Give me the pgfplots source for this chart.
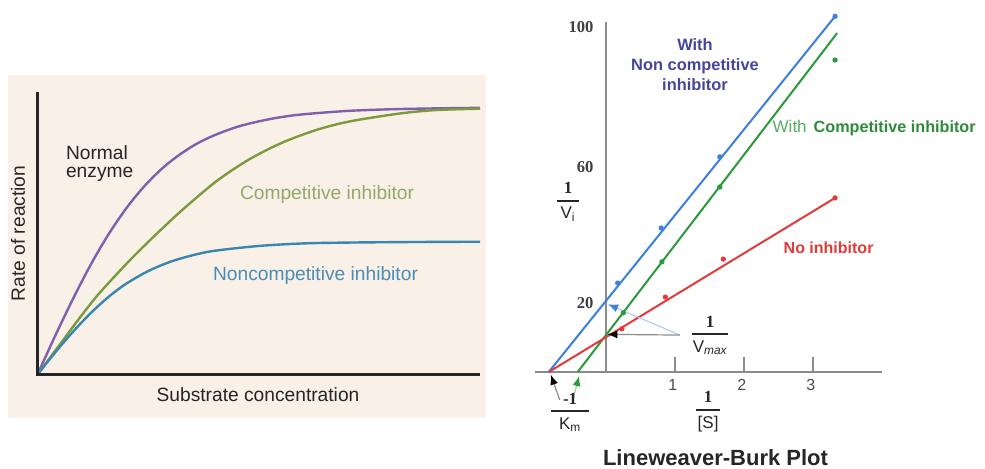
\documentclass[border=0pt]{standalone}
\usepackage{pgfplots}
\pgfplotsset{compat=1.18}
\usetikzlibrary{arrows.meta}
\usepackage{fontspec}
\setmainfont{Liberation Sans}
\newfontfamily\serifb{Liberation Serif}
\definecolor{bgb}{HTML}{F9F0E7}
\definecolor{cpurp}{HTML}{7F5FAE}
\definecolor{colive}{HTML}{7C9A3E}
\definecolor{tolive}{HTML}{93A96A}
\definecolor{cblue}{HTML}{3A86B2}
\definecolor{tblue}{HTML}{4C8DB4}
\definecolor{lbblue}{HTML}{3B7FE0}
\definecolor{lbgreen}{HTML}{2A9A3A}
\definecolor{lbred}{HTML}{E23B3B}
\definecolor{nctext}{HTML}{45459A}
\definecolor{ctext}{HTML}{2E8B3A}
\definecolor{axgray}{HTML}{8C8C8C}
\newcommand{\fr}[3]{$\displaystyle{\hbox{\serifb\bfseries #1}\above 0.9pt\hbox{\makebox[#3]{#2}}}$}
\begin{document}
\begin{tikzpicture}
\path[use as bounding box, fill=white] (0,0) rectangle (492.5pt,234pt);
\fill[bgb] (4pt,25pt) rectangle (243pt,196.5pt);
% ---------------- left panel ----------------
\begin{axis}[at={(18.75pt,46.75pt)}, anchor=south west, scale only axis,
  width=221.25pt, height=141.25pt, xmin=0, xmax=100, ymin=0, ymax=100,
  hide axis, clip=false]
\addplot[cpurp, line width=1.2pt, smooth] coordinates {
 (0,0) (4,13.7) (8,26.7) (12,38.8) (16,49.5) (20,58.7) (24,66.4) (28,72.7)
 (32,77.7) (36,81.7) (40,84.7) (45,87.6) (50,89.6) (55,91.1) (60,92.1)
 (70,93.3) (80,93.9) (90,94.2) (100,94.4)};
\addplot[colive, line width=1.2pt, smooth] coordinates {
 (0,0) (5,10.5) (10,21) (14.1,29) (20.9,40.5) (25.4,47.5) (28.4,52) (32.9,58.5)
 (40.5,68.5) (48,76.3) (55.5,82.2) (63.1,86.6) (70.6,89.6) (81.9,92.4) (90,93.6) (100,94.1)};
\addplot[cblue, line width=1.2pt, smooth] coordinates {
 (0,0) (4,7.8) (8,15.1) (12,21.7) (16,27.4) (20,32.1) (25,36.6) (30,39.9)
 (35,42.2) (40,43.8) (50,45.5) (60,46.4) (70,46.7) (85,46.9) (100,47.0)};
\draw[black!85, line width=1.1pt] (axis cs:0,100) -- (axis cs:0,0) -- (axis cs:100,0);
\end{axis}
\begin{scope}[every node/.style={font=\fontsize{9.6}{11.5}\selectfont}]
\node[anchor=base west, text=black!85] at (29.5pt,154.5pt) {Normal};
\node[anchor=base west, text=black!85] at (29.5pt,145.5pt) {enzyme};
\node[anchor=base, text=tolive] at (163.5pt,134.5pt) {Competitive inhibitor};
\node[anchor=base, text=tblue] at (157.75pt,93.65pt) {Noncompetitive inhibitor};
\node[rotate=90, text=black!85] at (9pt,117.25pt) {Rate of reaction};
\node[text=black!85] at (129pt,36.5pt) {Substrate concentration};
\end{scope}
% ---------------- right panel ----------------
\begin{axis}[at={(261.6pt,13.8pt)}, anchor=south west, scale only axis,
  width=182.85pt, height=218.9pt, xmin=-1.2, xmax=4.1, ymin=-20, ymax=108,
  hide axis, clip=false]
\draw[axgray, line width=0.8pt] (axis cs:-1.03,0) -- (axis cs:4.0,0);
\draw[axgray, line width=0.8pt] (axis cs:0,0) -- (axis cs:0,102.3);
\draw[axgray, line width=0.8pt] (axis cs:1,0) -- (axis cs:1,4.4);
\draw[axgray, line width=0.8pt] (axis cs:2,0) -- (axis cs:2,4.4);
\draw[axgray, line width=0.8pt] (axis cs:3,0) -- (axis cs:3,4.4);
\addplot[lbblue, line width=1pt] coordinates {(-0.83,0) (3.32,104)};
\addplot[lbgreen, line width=1pt] coordinates {(-0.41,0) (3.35,99.1)};
\addplot[lbred, line width=1pt] coordinates {(-0.83,0) (3.32,50.9)};
\addplot[only marks, mark=*, mark size=1.1pt, lbblue] coordinates {(0.17,26.0) (0.80,42.1) (1.65,62.9) (3.32,104)};
\addplot[only marks, mark=*, mark size=1.1pt, lbgreen] coordinates {(0.25,17.3) (0.81,32.2) (1.65,54.1) (3.32,91.2)};
\addplot[only marks, mark=*, mark size=1.1pt, lbred] coordinates {(0.23,12.6) (0.86,21.9) (1.70,33.0) (3.32,50.9)};
% arrows
\draw[lbblue!45, line width=0.5pt, -{Latex[length=5pt,width=4pt,color=lbblue]}] (axis cs:1.07,10.8) -- (axis cs:0.03,19.8);
\draw[axgray, line width=0.6pt, -{Latex[length=5pt,width=4pt,color=black]}] (axis cs:1.07,10.8) -- (axis cs:0.02,11.0);
\draw[axgray, line width=0.6pt, -{Latex[length=5pt,width=4pt,color=black]}] (axis cs:-0.67,-8.2) -- (axis cs:-0.80,-0.8);
\draw[lbgreen!45, line width=0.6pt, -{Latex[length=5pt,width=4pt,color=lbgreen]}] (axis cs:-0.48,-8.2) -- (axis cs:-0.39,-1.2);
% tick labels
\node[anchor=east, font=\serifb\bfseries\fontsize{8.3}{10}\selectfont, text=black!75] at (axis cs:-0.08,100.9) {100};
\node[anchor=east, font=\serifb\bfseries\fontsize{8.3}{10}\selectfont, text=black!75] at (axis cs:-0.08,59.9) {60};
\node[anchor=east, font=\serifb\bfseries\fontsize{8.3}{10}\selectfont, text=black!75] at (axis cs:-0.08,20.2) {20};
\node[font=\fontsize{8}{10}\selectfont, text=black!70] at (axis cs:0.97,-3.8) {1};
\node[font=\fontsize{8}{10}\selectfont, text=black!70] at (axis cs:1.97,-3.8) {2};
\node[font=\fontsize{8}{10}\selectfont, text=black!70] at (axis cs:2.97,-3.8) {3};
% fractions
\node[font=\fontsize{8.5}{10}\selectfont, text=black!85] at (axis cs:-0.55,49.7) {\fr{1}{V\textsubscript{i}}{11pt}};
\node[font=\fontsize{8.5}{10}\selectfont, text=black!85] at (axis cs:1.51,10.8) {\fr{1}{V\textsubscript{\itshape max}}{18pt}};
\node[font=\fontsize{8.5}{10}\selectfont, text=black!85] at (axis cs:-0.52,-11.7) {\fr{-1}{K\textsubscript{m}}{19pt}};
\node[font=\fontsize{8.5}{10}\selectfont, text=black!85] at (axis cs:1.48,-11.7) {\fr{1}{[S]}{12pt}};
% series labels
\node[align=center, font=\bfseries\fontsize{8.2}{10}\selectfont, text=nctext] at (axis cs:1.29,89.8) {With\\Non competitive\\inhibitor};
\node[anchor=west, inner sep=0pt, text=ctext] at (axis cs:2.41,71.3) {{\fontsize{8.5}{10}\selectfont\color{lbgreen!80}With}\hspace{3.5pt}{\bfseries\fontsize{8.1}{10}\selectfont Competitive inhibitor}};
\node[anchor=west, inner sep=0pt, font=\bfseries\fontsize{8}{10}\selectfont, text=lbred] at (axis cs:2.57,36.3) {No inhibitor};
\end{axis}
\node[font=\bfseries\fontsize{11}{13}\selectfont, text=black!85] at (357.75pt,5.2pt) {Lineweaver-Burk Plot};
\end{tikzpicture}
\end{document}
